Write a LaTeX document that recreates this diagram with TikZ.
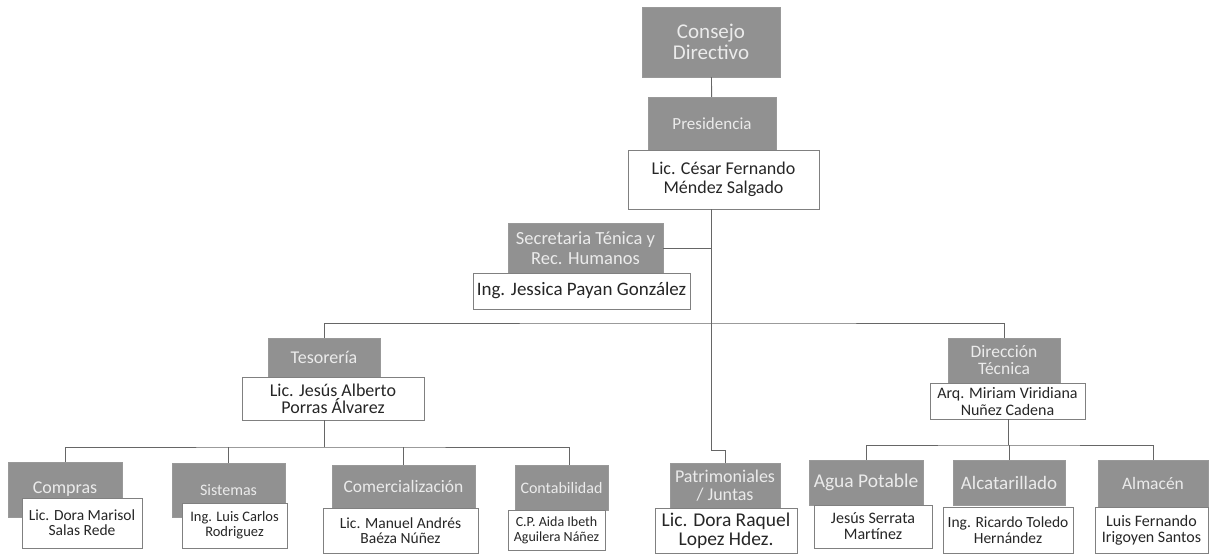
\documentclass[tikz,border=0pt]{standalone}
\usepackage{fontspec}
\setmainfont{Carlito}
\newcommand{\fsz}[2]{\fontsize{#1}{#2}\selectfont}

\begin{document}
\begin{tikzpicture}[
  x=1pt, y=-1pt,
  dept/.style={draw=black!40, fill=black!43, text=white!92!black, align=center, inner sep=0pt, font=\fsz{17}{18}},
  person/.style={draw=black!50, fill=white, text=black!85, align=center, inner sep=0pt, font=\fsz{15.5}{15}},
  dims/.style 2 args={minimum width=#1pt, minimum height=#2pt},
  link/.style={draw=black!60, line width=0.9pt}
]
\useasboundingbox (0,0) rectangle (1214,554);

% Direction
\node[dept, dims={138}{70}, font=\fsz{21}{21}] (consejo) at (711,42) {Consejo\\Directivo};
\node[dept, dims={128}{53}] (presid) at (712,123.5) {Presidencia};
\node[person, dims={191}{59}, font=\fsz{18}{19}] (presname) at (723.5,179.5) {Lic. César Fernando\\Méndez Salgado};

\node[dept, dims={155}{50}, font=\fsz{18.5}{19.5}] (secret) at (585.5,248) {Secretaria Ténica y\\Rec. Humanos};
\node[person, dims={217}{36}, font=\fsz{19}{19}] (secname) at (581.5,291) {Ing. Jessica Payan González};

% Second level
\node[dept, dims={112}{39}, font=\fsz{18}{18}] (tesor) at (324,357.5) {Tesorería};
\node[person, dims={182}{43}, font=\fsz{18}{17}] (tesname) at (333,398.5) {Lic. Jesús Alberto\\Porras Álvarez};

\node[dept, dims={112}{45}, font=\fsz{17.5}{17}] (direc) at (1004,360.5) {Dirección\\Técnica};
\node[person, dims={155}{36}, font=\fsz{16}{17}] (dirname) at (1007.5,401) {Arq. Miriam Viridiana\\Nuñez Cadena};

% Tesoreria areas
\node[dept, dims={114}{55}, font=\fsz{18}{18}] (compras) at (65,489.5) {Compras};
\node[person, dims={120}{50}] (comname) at (82,523) {Lic. Dora Marisol\\Salas Rede};

\node[dept, dims={113}{54}, font=\fsz{16}{18}] (sistem) at (228.5,490) {Sistemas};
\node[person, dims={105}{45}, font=\fsz{14.5}{15}] (sisname) at (234.5,525.5) {Ing. Luis Carlos\\Rodriguez};

\node[dept, dims={143}{43}, font=\fsz{17.5}{18}] (comerc) at (403.5,486.5) {Comercialización};
\node[person, dims={155}{45}, font=\fsz{15.5}{15}] (cmcname) at (400.5,530.5) {Lic. Manuel Andrés\\Baéza Núñez};

\node[dept, dims={93}{45}, font=\fsz{16}{18}] (contab) at (561.5,487.5) {Contabilidad};
\node[person, dims={97}{40}, font=\fsz{14}{15}] (conname) at (556.5,530) {C.P. Aida Ibeth\\Aguilera Náñez};

% Patrimoniales
\node[dept, dims={110}{45}, font=\fsz{18}{18}] (patrim) at (725,485.5) {Patrimoniales\\/ Juntas};
\node[person, dims={142}{45}, font=\fsz{19.5}{19}] (patname) at (726,530.5) {Lic. Dora Raquel\\Lopez Hdez.};

% Direccion Tecnica areas
\node[dept, dims={114}{45}, font=\fsz{19.5}{18}] (agua) at (866,482.5) {Agua Potable};
\node[person, dims={118}{43}, font=\fsz{16}{16}] (agname) at (873,526.5) {Jesús Serrata\\Martínez};

\node[dept, dims={112}{45}, font=\fsz{19}{18}] (alcant) at (1009,482.5) {Alcatarillado};
\node[person, dims={130}{46}, font=\fsz{15.5}{16}] (alname) at (1008,530) {Ing. Ricardo Toledo\\Hernández};

\node[dept, dims={110}{47}, font=\fsz{17.5}{18}] (almac) at (1153,483.5) {Almacén};
\node[person, dims={113}{46}, font=\fsz{16}{16}] (amname) at (1151.5,530) {Luis Fernando\\Irigoyen Santos};

% Connectors
\coordinate (jog) at (711,450);
\coordinate (bus1) at (711,323);
\coordinate (bus2) at (324,447);
\coordinate (bus3) at (1008,445);

\draw[link] (consejo) -- (presid);
\draw[link] (presname.south -| jog) -- (jog) -| (patrim.north);
\draw[link] (secret.east) -- (secret.east -| jog);
\draw[link] (tesor.north) |- (bus1) -| (direc.north);

\draw[link] (tesname.south -| bus2) -- (bus2);
\draw[link] (compras.north) |- (bus2) -| ([xshift=8pt]contab.north);
\draw[link] (sistem.north) -- (sistem.north |- bus2);
\draw[link] (comerc.north) -- (comerc.north |- bus2);

\draw[link] (dirname.south -| bus3) -- (bus3);
\draw[link] (agua.north) |- (bus3) -| (almac.north);
\draw[link] (alcant.north) -- (alcant.north |- bus3);

\end{tikzpicture}
\end{document}
